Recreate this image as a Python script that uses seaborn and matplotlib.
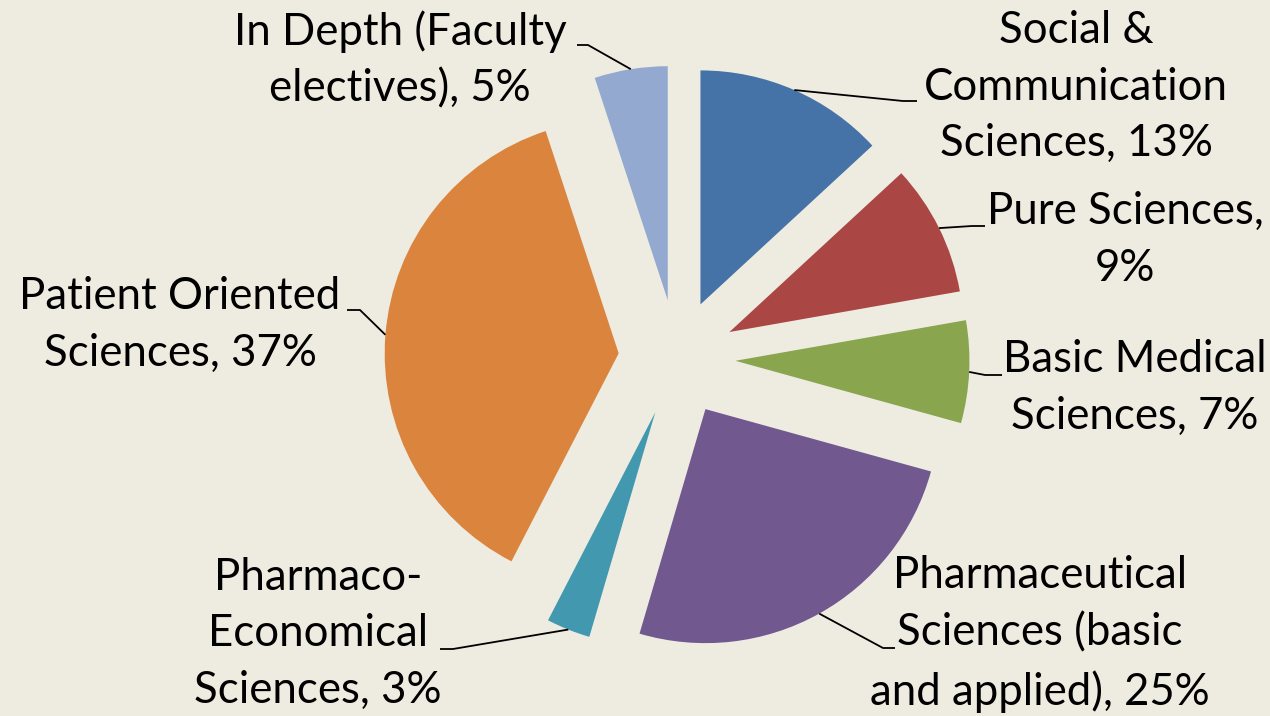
import matplotlib
matplotlib.use("Agg")
import matplotlib.pyplot as plt
import seaborn as sns
import numpy as np

# data
categories = [
    "Social &\nCommunication\nSciences",
    "Pure Sciences,\n",
    "Basic Medical\nSciences",
    "Pharmaceutical\nSciences (basic\nand applied)",
    "Pharmaco-\nEconomical\nSciences",
    "Patient Oriented\nSciences",
    "In Depth (Faculty\nelectives)",
]
shares = [13, 9, 7, 25, 3, 37, 5]
colors = ["#4572A7", "#AA4643", "#89A54E", "#71588F", "#4198AF", "#DB843D", "#93A9CF"]

W, H = 1270, 716
BG = "#EEECE1"
R_PX = 234.0
CX, CY = 677.0, 358.0

# label centre (px) and leader elbow / end (px)
label_xy = [(1076, 87), (1125, 240), (1135, 388), (1040, 634), (318, 634), (180, 325), (400, 60)]
elbows = [((903, 101), (917, 101)), ((972, 226), (985, 226)), ((985, 375), (1002, 375)),
          ((883, 648), (895, 648)), ((453, 649), (440, 649)), ((360, 310), (347, 310)),
          ((588, 45), (577, 45))]

sns.set_theme(style="white")
plt.rcParams["font.family"] = ["Lato", "DejaVu Sans"]

fig = plt.figure(figsize=(W / 100, H / 100), dpi=100, facecolor=BG)
ax = fig.add_axes([0, 0, 1, 1])
ax.set_facecolor(BG)

wedges, _ = ax.pie(shares, colors=colors, startangle=90, counterclock=False,
                   explode=[0.25] * len(shares), radius=1.0,
                   wedgeprops=dict(linewidth=0))

ax.set_xlim(-CX / R_PX, (W - CX) / R_PX)
ax.set_ylim(-(H - CY) / R_PX, CY / R_PX)
ax.set_aspect("equal")
ax.axis("off")


def px(x, y):
    return (x - CX) / R_PX, (CY - y) / R_PX


for i, (w, cat, val) in enumerate(zip(wedges, categories, shares)):
    mid = np.deg2rad((w.theta1 + w.theta2) / 2)
    sx = w.center[0] + w.r * np.cos(mid)
    sy = w.center[1] + w.r * np.sin(mid)
    (ex, ey), (tx, ty) = elbows[i]
    ex, ey = px(ex, ey)
    tx, ty = px(tx, ty)
    ax.plot([sx, ex, tx], [sy, ey, ty], color="black", lw=1.3, solid_capstyle="butt")
    if cat.endswith("\n"):
        text = cat + f"{val}%"
    else:
        text = cat + f", {val}%"
    lx, ly = px(*label_xy[i])
    ax.text(lx, ly, text, ha="center", va="center", fontsize=31.5,
            linespacing=1.48, color="black")

fig.savefig("out.png", dpi=100, facecolor=BG)
